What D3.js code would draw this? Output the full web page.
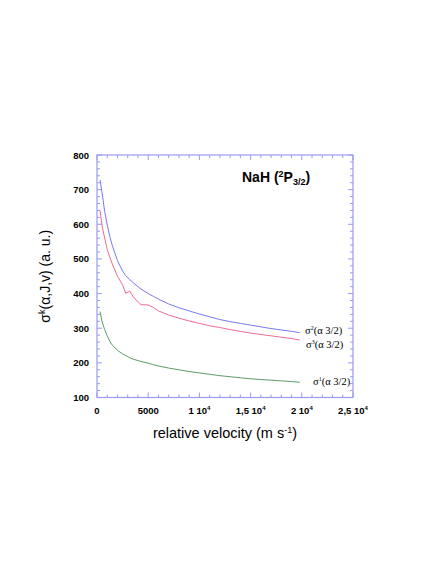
<!DOCTYPE html>
<html>
<head>
<meta charset="utf-8">
<script src="https://cdn.jsdelivr.net/npm/d3@7"></script>
<style>
  body { margin: 0; background: #fff; }
  svg { display: block; }
</style>
</head>
<body>
<script>
"use strict";

// relative velocity (m/s)
const velocity = [300, 500, 750, 1000, 1250, 1500, 2000, 2500, 2800, 3200, 3600, 4300, 5000, 5500, 6000,
  7000, 8000, 9000, 10000, 11000, 12000, 13000, 14000, 15000, 16000, 17000, 18000, 19000, 19800];
const sigma2 = [728, 690, 637, 598, 565, 538, 495, 465, 452, 440, 430, 413, 400, 392, 384,
  370, 359, 350, 341, 333, 325, 319, 314, 309, 304, 299, 295, 291, 287];
const sigma3 = [640, 595, 560, 527, 505, 485, 450, 425, 401, 407, 388, 368, 367, 360, 350,
  338, 329, 321, 314, 307, 302, 296, 291, 286, 282, 278, 274, 270, 266];
const sigma1 = [348, 318, 296, 278, 262, 251, 236, 226, 221, 215, 210, 204, 199, 195, 191,
  185, 180, 175, 171, 167, 163, 160, 157, 154, 152, 150, 148, 146, 144];

const xTicks = [0, 5000, 10000, 15000, 20000, 25000];
const xTickLabels = [["0", ""], ["5000", ""], ["1 10", "4"], ["1,5 10", "4"], ["2 10", "4"], ["2,5 10", "4"]];
const yTicks = [100, 200, 300, 400, 500, 600, 700, 800];

const series = [
  {name: "2", values: sigma2, color: "#7878f2", lx: 305, ly: 334},
  {name: "3", values: sigma3, color: "#f06a92", lx: 306, ly: 348},
  {name: "1", values: sigma1, color: "#5c9c6a", lx: 313, ly: 385}
];

let margins = {top: 155, left: 97};
let width = 256, height = 242.5;
let frameColor = "#9a9af0";

let svg = d3.select("body").append("svg")
  .attr("width", 436).attr("height", 564);

let g = svg.append("g")
  .attr("transform", "translate(" + margins.left + "," + margins.top + ")");

let x = d3.scaleLinear().domain([0, 25000]).range([0, width]);
let y = d3.scaleLinear().domain([100, 800]).range([height, 0]);

// minor and major ticks, pointing inward on all four sides
let xMinor = d3.range(0, 25001, 1000);
let yMinor = d3.range(100, 801, 20);

function tickLen(isMajor) { return isMajor ? 5 : 3; }

xMinor.forEach(function(v) {
  let len = tickLen(v % 5000 === 0);
  g.append("line").attr("x1", x(v)).attr("x2", x(v)).attr("y1", height).attr("y2", height - len)
    .attr("stroke", frameColor);
  g.append("line").attr("x1", x(v)).attr("x2", x(v)).attr("y1", 0).attr("y2", len)
    .attr("stroke", frameColor);
});
yMinor.forEach(function(v) {
  let len = tickLen(v % 100 === 0);
  g.append("line").attr("x1", 0).attr("x2", len).attr("y1", y(v)).attr("y2", y(v))
    .attr("stroke", frameColor);
  g.append("line").attr("x1", width).attr("x2", width - len).attr("y1", y(v)).attr("y2", y(v))
    .attr("stroke", frameColor);
});

g.append("rect")
  .attr("x", 0).attr("y", 0).attr("width", width).attr("height", height)
  .attr("fill", "none").attr("stroke", frameColor).attr("stroke-width", 1.2);

// tick labels
g.selectAll(".ylab").data(yTicks).enter().append("text")
  .attr("class", "ylab")
  .attr("x", -8).attr("y", function(d) { return y(d) + 3.5; })
  .attr("text-anchor", "end")
  .style("font", "bold 9.5px 'Liberation Sans', Arial, sans-serif")
  .text(function(d) { return d; });

let xl = g.selectAll(".xlab").data(xTicks).enter().append("text")
  .attr("class", "xlab")
  .attr("x", function(d) { return x(d); }).attr("y", height + 16)
  .attr("text-anchor", "middle")
  .style("font", "bold 9.5px 'Liberation Sans', Arial, sans-serif");
xl.append("tspan").text(function(d, i) { return xTickLabels[i][0]; });
xl.append("tspan").attr("dy", -4).style("font-size", "6px")
  .text(function(d, i) { return xTickLabels[i][1]; });

// curves
let line = d3.line()
  .x(function(d, i) { return x(velocity[i]); })
  .y(function(d) { return y(d); });

series.forEach(function(s) {
  g.append("path").datum(s.values)
    .attr("d", line)
    .attr("fill", "none")
    .attr("stroke", s.color)
    .attr("stroke-width", 1);

  let t = svg.append("text")
    .attr("x", s.lx).attr("y", s.ly)
    .style("font", "10.5px 'Liberation Serif', 'Times New Roman', serif");
  t.append("tspan").text("σ");
  t.append("tspan").attr("dy", -4).style("font-size", "6px").text(s.name);
  t.append("tspan").attr("dy", 4).text("(α 3/2)");
});

// title
let title = svg.append("text")
  .attr("x", 242).attr("y", 182)
  .style("font", "bold 14px 'Liberation Sans', Arial, sans-serif");
title.append("tspan").text("NaH (");
title.append("tspan").attr("dy", -5).style("font-size", "9px").text("2");
title.append("tspan").attr("dy", 5).text("P");
title.append("tspan").attr("dy", 3).style("font-size", "9px").text("3/2");
title.append("tspan").attr("dy", -3).text(")");

// axis titles
let xt = svg.append("text")
  .attr("x", 225).attr("y", 438)
  .attr("text-anchor", "middle")
  .style("font", "14.5px 'Liberation Sans', Arial, sans-serif");
xt.append("tspan").text("relative velocity (m s");
xt.append("tspan").attr("dy", -5).style("font-size", "9px").text("-1");
xt.append("tspan").attr("dy", 5).text(")");

let yt = svg.append("text")
  .attr("transform", "translate(50," + (margins.top + height / 2) + ") rotate(-90)")
  .attr("text-anchor", "middle")
  .style("font", "14px 'Liberation Sans', Arial, sans-serif");
yt.append("tspan").text("σ");
yt.append("tspan").attr("dy", -5).style("font-size", "9px").text("k");
yt.append("tspan").attr("dy", 5).text("(α,J,v) (a. u.)");
</script>
</body>
</html>
